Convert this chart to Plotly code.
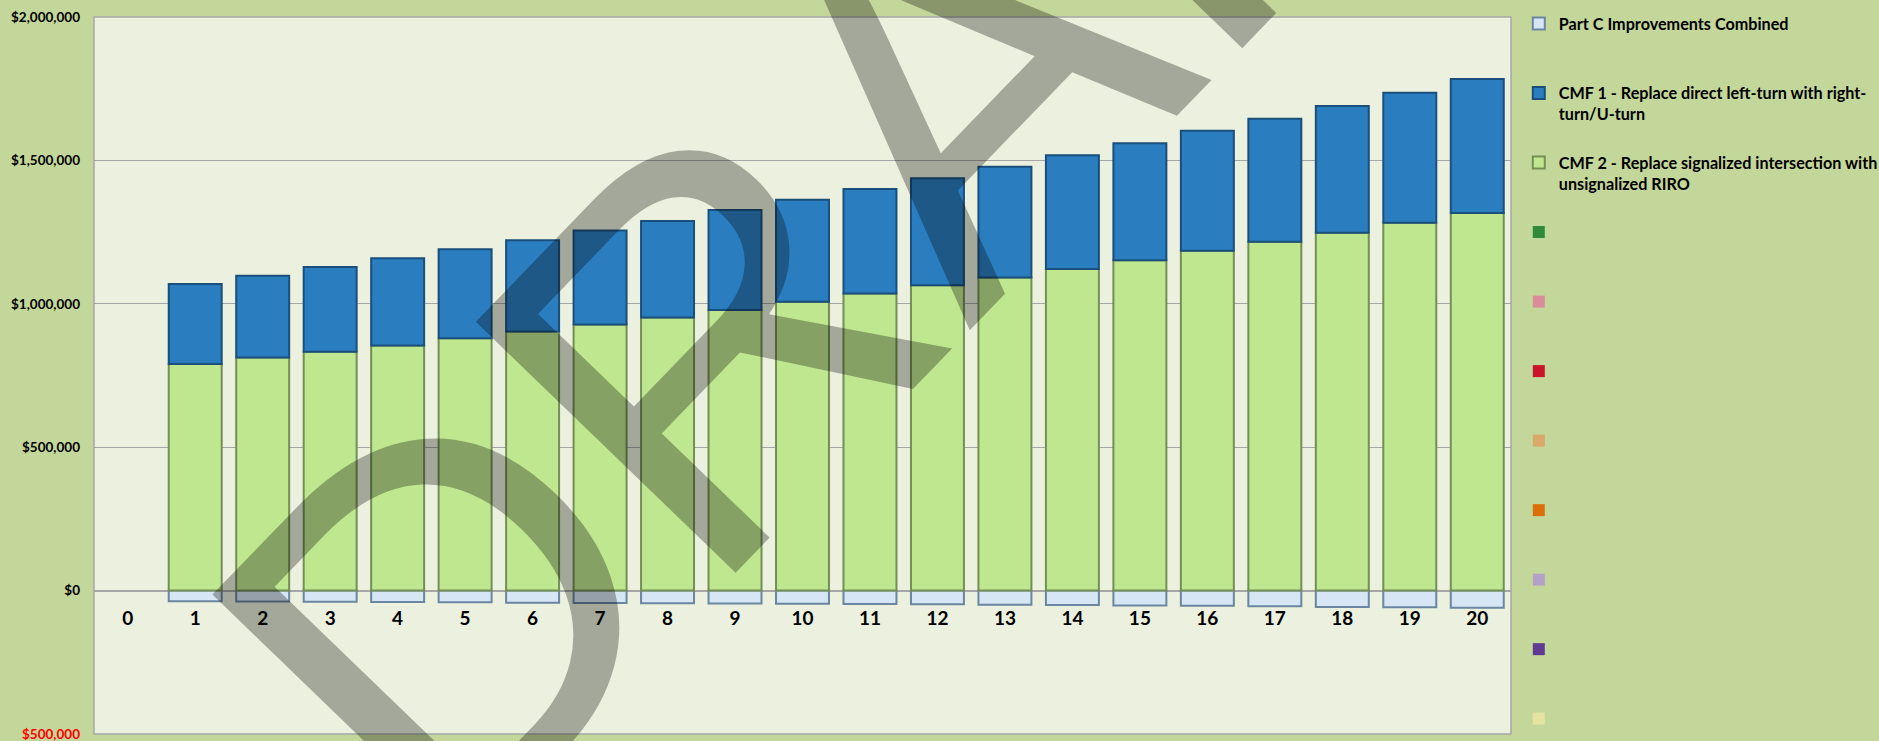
import plotly.graph_objects as go

years = [str(i) for i in range(21)]

part_c = [None, -37000, -38000, -39000, -40000, -41000, -42000, -43000, -44000, -45000, -46000,
          -47000, -48000, -49000, -50000, -52000, -53000, -55000, -57000, -58000, -60000]
cmf2 = [None, 790000, 813000, 833000, 855000, 880000, 903000, 928000, 952000, 978000, 1007000,
        1036000, 1065000, 1092000, 1121000, 1152000, 1185000, 1216000, 1248000, 1283000, 1317000]
total_top = [None, 1069000, 1098000, 1128000, 1159000, 1190000, 1222000, 1256000, 1289000, 1327000, 1363000,
             1400000, 1438000, 1478000, 1518000, 1560000, 1603000, 1645000, 1690000, 1736000, 1784000]
cmf1 = [None if t is None else t - g for t, g in zip(total_top, cmf2)]
blank = [None] * 21

series_names = [
    "Part C Improvements Combined<br> ",
    "CMF 1 - Replace direct left-turn with right-<br>turn/U-turn",
    "CMF 2 - Replace signalized intersection with<br>unsignalized RIRO",
]
blank_colors = ["#2E8B3A", "#D98C9A", "#C8152A", "#D9A86A", "#DC6E0A", "#B3A2C7", "#5E3A92", "#E4E4A0"]

tick_vals = [-500000, 0, 500000, 1000000, 1500000, 2000000]
tick_text = ['<span style="color:#FF0000">$500,000</span>', "$0", "$500,000", "$1,000,000", "$1,500,000", "$2,000,000"]

fig = go.Figure()

fig.add_trace(go.Bar(x=years, y=part_c, name=series_names[0], legendrank=1, legendgroup="g1",
                     marker=dict(color="#D6E6F4", line=dict(color="#6A86A0", width=2))))
fig.add_trace(go.Bar(x=years, y=cmf2, name=series_names[2], legendrank=3, legendgroup="g3",
                     marker=dict(color="#BFE78F", line=dict(color="#748F55", width=2))))
fig.add_trace(go.Bar(x=years, y=cmf1, name=series_names[1], legendrank=2, legendgroup="g2",
                     marker=dict(color="#2A7EC0", line=dict(color="#1A4F7C", width=2))))
for i, c in enumerate(blank_colors):
    fig.add_trace(go.Bar(x=years, y=blank, name=" <br> ", legendrank=4 + i, legendgroup="b%d" % i,
                         marker=dict(color=c, line=dict(width=0))))

fig.add_shape(type="rect", xref="paper", yref="paper", x0=0, x1=1, y0=0, y1=1,
              line=dict(color="#A6A6A6", width=1.5), layer="below")

fig.add_annotation(text="DRAFT", xref="paper", yref="paper", x=0.582, y=0.8556,
                   showarrow=False, textangle=-46, xanchor="center", yanchor="middle",
                   font=dict(family="Liberation Sans", size=525, color="rgba(0,0,0,0.3)"))

fig.update_layout(
    width=1879, height=741,
    margin=dict(l=94, r=368, t=17, b=7, autoexpand=False),
    paper_bgcolor="#C4D79B",
    plot_bgcolor="#EBF1DE",
    barmode="relative",
    bargap=0.215,
    font=dict(family="Lato", color="#000000"),
    legend=dict(x=1.0055, y=1.0147, xanchor="left", yanchor="top", traceorder="grouped",
                tracegroupgap=24.4, valign="top", bgcolor="rgba(0,0,0,0)", maxheight=1200,
                font=dict(family="Lato", size=16.2, weight=700, color="#000000")),
    xaxis=dict(type="category", range=[-0.5, 20.5], anchor="free", position=0.2,
               showgrid=False, showline=False, ticks="", ticklabelstandoff=14,
               tickfont=dict(family="Lato", size=19, weight=700, color="#000000")),
    yaxis=dict(range=[-500000, 2000000], tickvals=tick_vals, ticktext=tick_text,
               showgrid=True, gridcolor="#A6A6A6", gridwidth=1,
               zeroline=True, zerolinecolor="#A6A6A6", zerolinewidth=1.5,
               showline=False, ticks="", ticklabelstandoff=13, ticklabeloverflow="allow",
               tickfont=dict(family="Lato", size=13.5, weight=700, color="#000000")),
)

fig.write_html("out.html", config={"displayModeBar": False},
               post_script="document.body.style.margin='0px';")
